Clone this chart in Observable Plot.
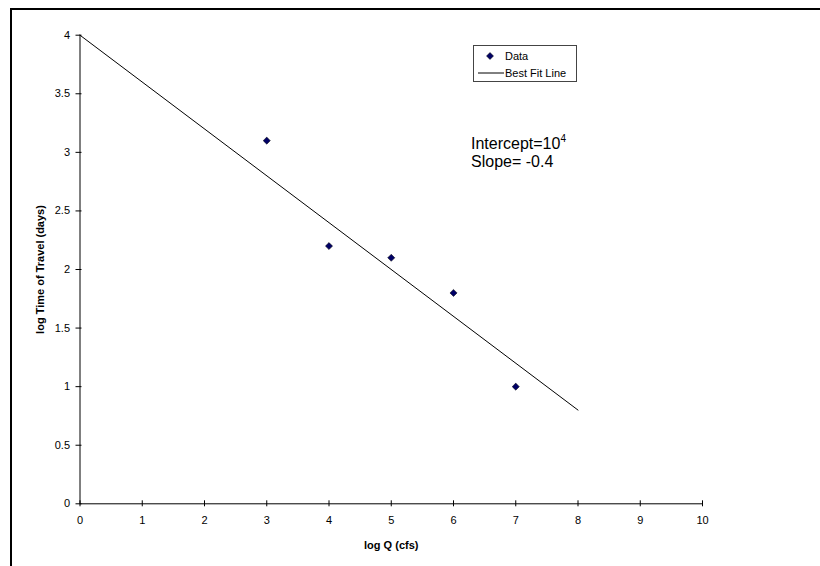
<!DOCTYPE html>
<html>
<head>
<meta charset="utf-8">
<script src="https://cdn.jsdelivr.net/npm/d3@7"></script>
<script src="https://cdn.jsdelivr.net/npm/@observablehq/plot@0.6"></script>
<style>
  html, body { margin: 0; padding: 0; background: #fff; overflow: hidden; }
  #wrap { position: relative; width: 820px; height: 566px; overflow: hidden; font-family: "Liberation Sans", Arial, sans-serif; }
  #chart svg { display: block; }
  #bleft { position: absolute; left: 10px; top: 8px; width: 2px; height: 558px; background: #000; }
  #btop { position: absolute; left: 10px; top: 8px; width: 810px; height: 2px; background: #000; }
  #legend { position: absolute; left: 473px; top: 45px; width: 104px; height: 37px; border: 1px solid #444; box-sizing: border-box; background: #fff; font-size: 11px; color: #000; }
  #legend .row { position: absolute; left: 0; height: 14px; line-height: 14px; }
  #note { position: absolute; left: 471px; top: 135px; font-size: 16px; line-height: 18px; color: #000; }
  #note sup { font-size: 10px; vertical-align: 7px; line-height: 0; }
</style>
</head>
<body>
<div id="wrap">
  <div id="chart"></div>
  <div id="bleft"></div>
  <div id="btop"></div>
  <div id="legend">
    <div class="row" style="top:3px;"><svg width="104" height="14" style="position:absolute;left:0;top:0"><path d="M16,3.5L19.5,7L16,10.5L12.5,7Z" fill="#000066" stroke="#000" stroke-width="0.5"/></svg><span style="position:absolute;left:31px;">Data</span></div>
    <div class="row" style="top:20px;"><svg width="104" height="14" style="position:absolute;left:0;top:0"><line x1="4" x2="30" y1="7" y2="7" stroke="#000" stroke-width="1"/></svg><span style="position:absolute;left:31px;white-space:nowrap;">Best Fit Line</span></div>
  </div>
  <div id="note">Intercept=10<sup>4</sup><br>Slope= -0.4</div>
</div>
<script>
const logQ = [3, 4, 5, 6, 7];
const logTime = [3.1, 2.2, 2.1, 1.8, 1.0];
const fitX = [0, 8];
const fitY = [4, 0.8];
const xTicks = [0, 1, 2, 3, 4, 5, 6, 7, 8, 9, 10];
const yTicks = [0, 0.5, 1, 1.5, 2, 2.5, 3, 3.5, 4];

const points = logQ.map((x, i) => ({x, y: logTime[i]}));
const fit = fitX.map((x, i) => ({x, y: fitY[i]}));

const chart = Plot.plot({
  width: 820,
  height: 566,
  marginLeft: 79.5,
  marginRight: 118,
  marginTop: 34.7,
  marginBottom: 62.7,
  style: {fontFamily: "'Liberation Sans', Arial, sans-serif", background: "#fff", color: "#000"},
  x: {domain: [0, 10]},
  y: {domain: [0, 4]},
  marks: [
    Plot.axisX(xTicks, {tickSize: 0, tickPadding: 12, fontSize: 11, label: null, tickFormat: d => String(d)}),
    Plot.axisY(yTicks, {tickSize: 0, tickPadding: 10, fontSize: 11, label: null, tickFormat: d => String(d)}),
    Plot.ruleX([0], {stroke: "#000", strokeWidth: 1}),
    Plot.ruleY([0], {stroke: "#000", strokeWidth: 1}),
    Plot.ruleX(xTicks, {x: d => d, y1: 0, y2: 0, insetTop: -3, insetBottom: -3, stroke: "#000"}),
    Plot.ruleY(yTicks, {y: d => d, x1: 0, x2: 0, insetLeft: -4, insetRight: -2, stroke: "#000"}),
    Plot.line(fit, {x: "x", y: "y", stroke: "#000", strokeWidth: 1}),
    Plot.dot(points, {x: "x", y: "y", symbol: "diamond2", r: 3.2, fill: "#000066", stroke: "#000", strokeWidth: 0.5}),
    Plot.text(["log Q (cfs)"], {frameAnchor: "bottom", dy: 45, fontSize: 11, fontWeight: "bold", text: d => d}),
    Plot.text(["log Time of Travel (days)"], {frameAnchor: "left", textAnchor: "middle", dx: -40, dy: 0, rotate: -90, fontSize: 11, fontWeight: "bold", text: d => d})
  ]
});
document.getElementById("chart").appendChild(chart);
</script>
</body>
</html>
